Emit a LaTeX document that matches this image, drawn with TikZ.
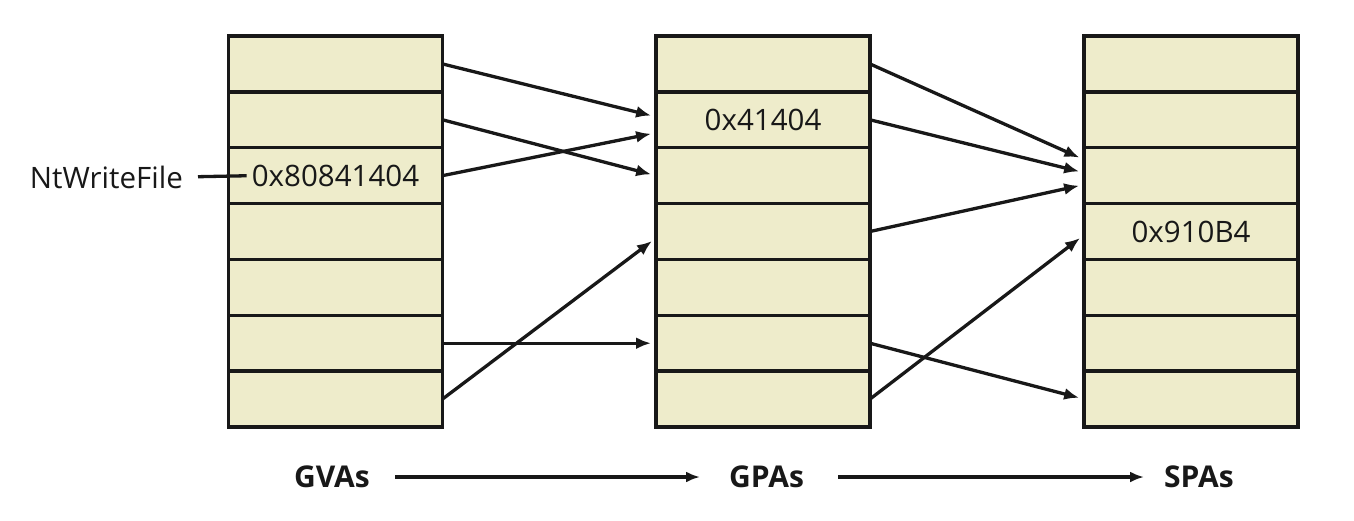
\documentclass[tikz,border=0pt]{standalone}
\usepackage{fontspec}
\setmainfont{Open Sans}
\usetikzlibrary{arrows.meta}
\definecolor{cellfill}{RGB}{238,236,203}
\definecolor{ink}{RGB}{24,24,24}
\begin{document}
\begin{tikzpicture}[x=1pt,y=-1pt,
  cell/.style={draw=ink,fill=cellfill,line width=3.4pt,minimum width=214pt,
    minimum height=55.86pt,inner sep=0pt,outer sep=0pt},
  val/.style={inner sep=0pt,font=\fontsize{29.5}{34}\selectfont,text=ink},
  axislabel/.style={inner sep=0pt,font=\fontsize{30}{34}\selectfont\bfseries,text=ink},
  map/.style={draw=ink,line width=3.3pt,-{Latex[length=15pt,width=12pt]},shorten >=5pt},
  flow/.style={draw=ink,line width=3.3pt,-{Latex[length=14pt,width=11pt]}},
  lead/.style={draw=ink,line width=3.3pt}]
\useasboundingbox (0,0) rectangle (1354,520);

% three page tables of seven entries each
\foreach \c/\x in {1/335.5,2/763,3/1191}
  \foreach \r in {1,...,7}
    \node[cell] (c\c r\r) at (\x,{36+55.857*(\r-0.5)}) {};

% entry values
\node[val] (v1) at (c1r3) {0x80841404};
\node[val] (v2) at (c2r2) {0x41404};
\node[val] (v3) at (c3r4) {0x910B4};
\node[val,anchor=east] (nt) at (183,177) {NtWriteFile};
\draw[lead,shorten <=15pt,shorten >=5pt] (nt.east) -- (v1.west);

% guest virtual -> guest physical
\draw[map] (c1r1.east) -- ([yshift=3pt]c2r2.west);
\draw[map] (c1r2.east) -- (c2r3.west);
\draw[map] (c1r3.east) -- ([yshift=-13pt]c2r2.west);
\draw[map] (c1r6.east) -- (c2r6.west);
\draw[map] (c1r7.east) -- ([yshift=-6.5pt]c2r4.west);

% guest physical -> system physical
\draw[map] (c2r1.east) -- ([yshift=16pt]c3r3.west);
\draw[map] (c2r2.east) -- ([yshift=3pt]c3r3.west);
\draw[map] (c2r4.east) -- ([yshift=-9pt]c3r3.west);
\draw[map] (c2r6.east) -- (c3r7.west);
\draw[map] (c2r7.east) -- ([yshift=-3.5pt]c3r4.west);

% translation stages
\node[axislabel,anchor=east] (gva) at (370,477) {GVAs};
\node[axislabel,anchor=west] (gpa) at (729,477) {GPAs};
\node[axislabel,anchor=west] (spa) at (1164,477) {SPAs};
\draw[flow] ([xshift=25pt]gva.east) -- ([xshift=-29pt]gpa.west);
\draw[flow] ([xshift=34pt]gpa.east) -- ([xshift=-20pt]spa.west);
\end{tikzpicture}
\end{document}
